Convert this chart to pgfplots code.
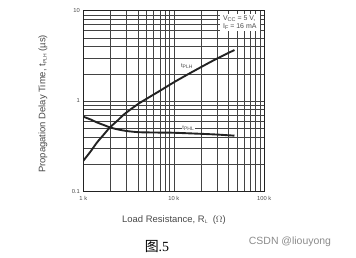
\documentclass[border=0pt]{standalone}
\usepackage{pgfplots}
\pgfplotsset{compat=1.18}
\usepackage{fontspec}
\setmainfont{Liberation Sans}
\newfontfamily\cjk{Noto Sans CJK SC}
\newfontfamily\serif{Liberation Serif}
\definecolor{txt}{HTML}{4A4A4A}
\definecolor{ln}{HTML}{222222}
\newcommand{\sub}[1]{\raisebox{-0.25ex}{\fontsize{5}{5}\selectfont #1}}
\newcommand{\subs}[1]{\raisebox{-0.2ex}{\fontsize{5.5}{5.5}\selectfont #1}}
\begin{document}
\begin{tikzpicture}[x=1bp,y=1bp]
\useasboundingbox (0,0) rectangle (356,258);
\fill[white] (0,0) rectangle (356,258);
\begin{axis}[
  at={(83.3bp,66.7bp)}, anchor=south west,
  scale only axis, width=181bp, height=180.6bp,
  xmode=log, ymode=log,
  xmin=1000, xmax=100000, ymin=0.1, ymax=10,
  xtick={1000,10000,100000}, xticklabels={1 k,10 k,100 k},
  ytick={0.1,1,10}, yticklabels={0.1,1,10},
  minor xtick={2000,3000,4000,5000,6000,7000,8000,9000,20000,30000,40000,50000,60000,70000,80000,90000},
  minor ytick={0.2,0.3,0.4,0.5,0.6,0.7,0.8,0.9,2,3,4,5,6,7,8,9},
  grid=both,
  major grid style={line width=0.55pt, color=ln!85},
  minor grid style={line width=0.55pt, color=ln!85},
  major tick length=0pt, minor tick length=0pt,
  axis line style={line width=0.7pt, color=ln},
  tick label style={font=\fontsize{5.8}{6}\selectfont, text=txt},
  xticklabel style={yshift=-1.5bp},
  /pgf/number format/assume math mode=true,
  clip=true,
]
\addplot[line width=1.9pt, color=ln, smooth, tension=0.5] coordinates {
  (1000,0.218) (1200,0.275) (1410,0.345) (1700,0.43) (1970,0.51)
  (2400,0.61) (2770,0.70) (3400,0.82) (4240,0.957) (5500,1.12) (7050,1.30)
  (10000,1.61) (14000,1.95) (20400,2.4) (30000,2.95) (46800,3.67)
};
\addplot[line width=1.9pt, color=ln, smooth, tension=0.5] coordinates {
  (1000,0.67) (1200,0.625) (1410,0.58) (1700,0.54) (1970,0.51)
  (2400,0.485) (3020,0.465) (4000,0.452) (4990,0.449) (7000,0.447)
  (10000,0.445) (20000,0.433) (30000,0.425) (46800,0.413)
};
\node[fill=white, inner sep=0.8bp, font=\fontsize{5.8}{6}\selectfont, text=txt] at (axis cs:13900,2.44) {t\sub{PLH}};
\node[fill=white, inner sep=0.8bp, font=\fontsize{5.8}{6}\selectfont, text=txt] at (axis cs:14400,0.5) {t\sub{PHL}};
\node[fill=white, inner xsep=3.5bp, inner ysep=1.5bp, align=left, font=\fontsize{7}{8.3}\selectfont, text=txt, anchor=north east] at (axis cs:90000,9.2) {V\subs{CC} = 5 V,\\I\subs{F} = 16 mA};
\end{axis}
\node[rotate=90, text=txt, font=\fontsize{9.5}{10}\selectfont] at (43,154) {Propagation Delay Time, t\sub{PLH} (\textmu s)};
\node[text=txt, font=\fontsize{9.5}{10}\selectfont] at (174,38) {Load Resistance, R\sub{L}\ \ ($\Omega$)};
\node[text=black, font=\fontsize{14}{15}\selectfont] at (157,11) {{\cjk 图}{\serif .5}};
\node[text=black!45, font=\fontsize{10.5}{11}\selectfont] at (290,16) {CSDN @liouyong};
\end{tikzpicture}
\end{document}
